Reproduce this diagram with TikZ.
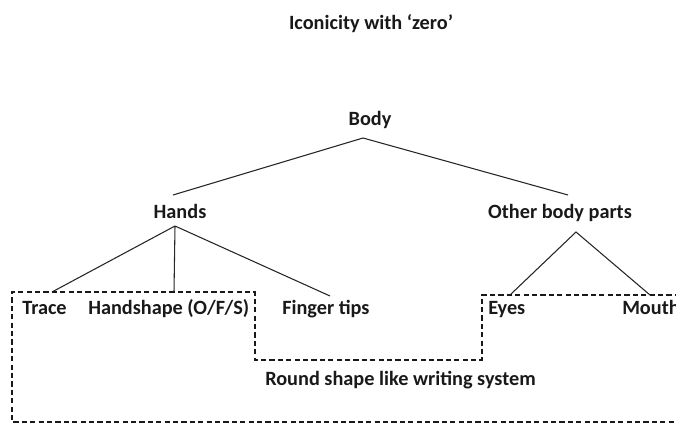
\documentclass[tikz,border=0pt]{standalone}
\usepackage{fontspec}
\setmainfont{Carlito}
\begin{document}
\begin{tikzpicture}[x=0.75pt,y=-0.75pt,
  lbl/.style={font=\fontsize{15.2}{18}\selectfont\bfseries, inner sep=0pt, anchor=base, text=black!90},
  lblw/.style={lbl, anchor=base west},
  branch/.style={draw=black!85, line width=0.8pt},
  outline/.style={draw=black!90, line width=0.8pt, dash pattern=on 3.9pt off 2.4pt}]
\useasboundingbox (0,0) rectangle (676,428);
\clip (0,0) rectangle (676,428);
\node[lbl] (title) at (371,30) {Iconicity with ‘zero’};
\node[lbl] (body) at (370,126) {Body};
\node[lbl] (hands) at (180,219) {Hands};
\node[lbl] (other) at (560,219) {Other body parts};
\node[lblw] (trace) at (22,315) {Trace};
\node[lblw] (handshape) at (88,315) {Handshape (O/F/S)};
\node[lblw] (finger) at (282,315) {Finger tips};
\node[lblw] (eyes) at (488,315) {Eyes};
\node[lblw] (mouth) at (622,315) {Mouth};
\node[lblw] (round) at (265,385) {Round shape like writing system};
% connector end points
\coordinate (bodyb) at (363,138);
\coordinate (handst) at (173,195);
\coordinate (othert) at (568,195);
\coordinate (handsb) at (175,226);
\coordinate (tracet) at (52,292);
\coordinate (handshapet) at (174,292);
\coordinate (fingert) at (330,296);
\coordinate (otherb) at (576,232);
\coordinate (eyest) at (510,295);
\coordinate (moutht) at (650,295);
\draw[branch] (handst) -- (bodyb) -- (othert);
\draw[branch] (handsb) -- (tracet);
\draw[branch] (handsb) -- (handshapet);
\draw[branch] (handsb) -- (fingert);
\draw[branch] (eyest) -- (otherb) -- (moutht);
% dashed outline
\draw[outline] (680,295) -- (482,295) -- (482,360) -- (255,360) -- (255,292) -- (12,292) -- (12,422) -- (680,422);
\end{tikzpicture}
\end{document}
